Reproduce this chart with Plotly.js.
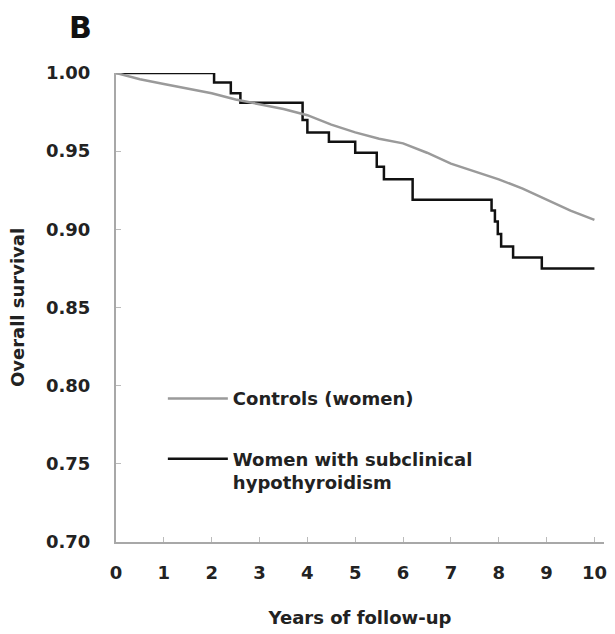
<!DOCTYPE html>
<html>
<head>
<meta charset="utf-8">
<script src="https://cdn.plot.ly/plotly-3.0.1.min.js"></script>
<style>html,body{margin:0;padding:0;background:#fff;}#chart{width:615px;height:634px;}</style>
</head>
<body>
<div id="chart"></div>
<script>
// Controls (women)
const controlYears = [0, 0.5, 1, 1.5, 2, 2.5, 3, 3.5, 4, 4.5, 5, 5.5, 6, 6.5, 7, 7.5, 8, 8.5, 9, 9.5, 10];
const controlSurvival = [1.000, 0.996, 0.993, 0.990, 0.987, 0.983, 0.980, 0.977, 0.973, 0.967, 0.962, 0.958, 0.955, 0.949, 0.942, 0.937, 0.932, 0.926, 0.919, 0.912, 0.906];
// Women with subclinical hypothyroidism (step curve)
const shYears = [0, 2.05, 2.4, 2.6, 3.9, 4.0, 4.45, 5.0, 5.45, 5.6, 6.2, 7.85, 7.92, 7.98, 8.05, 8.3, 8.9, 10];
const shSurvival = [1.000, 0.994, 0.987, 0.981, 0.970, 0.962, 0.956, 0.949, 0.940, 0.932, 0.919, 0.912, 0.905, 0.897, 0.889, 0.882, 0.875, 0.875];
const xTicks = [0, 1, 2, 3, 4, 5, 6, 7, 8, 9, 10];
const yTicks = [0.70, 0.75, 0.80, 0.85, 0.90, 0.95, 1.00];
const yTickLabels = ["0.70", "0.75", "0.80", "0.85", "0.90", "0.95", "1.00"];
const seriesNames = ["Controls (women)", "Women with subclinical<br>hypothyroidism"];

const font = "DejaVu Sans, Arial, sans-serif";
const txt = "#222";

const traces = [
  {x: shYears, y: shSurvival, mode: "lines", name: seriesNames[1], legendgroup: "b", legendrank: 2,
   line: {color: "#111", width: 2.5, shape: "hv"}},
  {x: controlYears, y: controlSurvival, mode: "lines", name: seriesNames[0], legendgroup: "a", legendrank: 1,
   line: {color: "#9a9a9a", width: 2.5}}
];

const layout = {
  width: 615, height: 634,
  margin: {l: 116, r: 8, t: 73, b: 92},
  paper_bgcolor: "#fff", plot_bgcolor: "#fff",
  font: {family: font, size: 18, color: txt, weight: "bold"},
  showlegend: true,
  legend: {x: 0.096, y: 0.345, xanchor: "left", yanchor: "top", bgcolor: "rgba(0,0,0,0)",
    font: {family: font, size: 18, color: txt, weight: "bold"},
    traceorder: "grouped", tracegroupgap: 34, valign: "top", itemwidth: 60},
  xaxis: {range: [0, 10.2], tickvals: xTicks, ticks: "inside", ticklen: 5, tickcolor: "#bbb",
    showgrid: false, zeroline: false, showline: true, linecolor: "#a8a8a8", linewidth: 2,
    ticklabelstandoff: 13, tickfont: {family: font, size: 18, color: txt, weight: "bold"},
    title: {text: "Years of follow-up", standoff: 30, font: {family: font, size: 18, color: txt, weight: "bold"}},
    automargin: true, fixedrange: true},
  yaxis: {range: [0.70, 1.00], tickvals: yTicks, ticktext: yTickLabels, ticks: "inside", ticklen: 5, tickcolor: "#bbb",
    showgrid: false, zeroline: false, showline: true, linecolor: "#a8a8a8", linewidth: 2,
    ticklabelstandoff: 20, tickfont: {family: font, size: 18, color: txt, weight: "bold"},
    title: {text: "Overall survival", standoff: 17, font: {family: font, size: 18, color: txt, weight: "bold"}},
    automargin: true, fixedrange: true},
  annotations: [
    {text: "B", xref: "paper", yref: "paper", x: -0.073, y: 1.096, xanchor: "center", yanchor: "middle",
     showarrow: false, font: {family: font, size: 30, color: "#111", weight: "bold"}}
  ]
};

Plotly.newPlot("chart", traces, layout, {staticPlot: true, displayModeBar: false});
</script>
</body>
</html>
